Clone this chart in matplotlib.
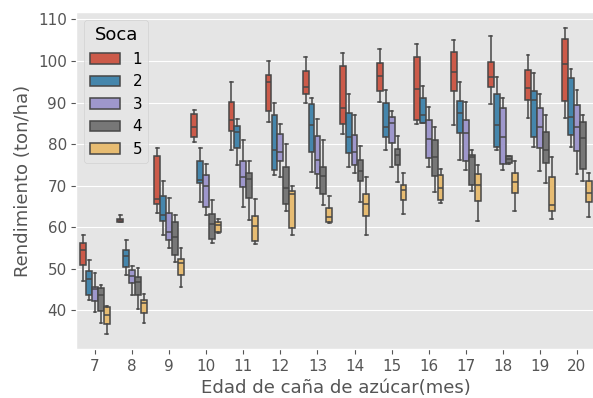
import colorsys
import matplotlib
matplotlib.use("Agg")
import matplotlib.pyplot as plt
import matplotlib.colors as mcolors
from matplotlib.patches import Patch

# --------------------------------------------------
# DATA  (low whisker, q1, median, q3, high whisker)
# --------------------------------------------------

meses = [7, 8, 9, 10, 11, 12, 13, 14, 15, 16, 17, 18, 19, 20]
socas = ["1", "2", "3", "4", "5"]

soca1 = [[47.0, 50.9, 54.5, 56.2, 58.1], [61.2, 61.3, 61.7, 62.1, 63.0],
         [63.4, 65.6, 66.7, 77.1, 79.0], [80.6, 81.6, 84.2, 87.3, 88.1],
         [78.6, 83.2, 85.9, 90.2, 95.0], [85.4, 87.9, 94.9, 96.6, 100.0],
         [89.9, 92.1, 93.8, 97.6, 101.0], [82.5, 84.9, 88.6, 98.8, 102.0],
         [90.2, 92.8, 96.4, 99.6, 103.0], [84.9, 85.7, 93.3, 100.9, 104.0],
         [84.6, 92.8, 97.4, 102.1, 105.0], [89.7, 93.7, 96.1, 99.8, 106.1],
         [86.3, 90.5, 93.4, 97.8, 101.5], [86.4, 90.4, 99.2, 105.2, 108.0]]

soca2 = [[42.4, 43.8, 47.5, 49.4, 52.1], [48.6, 50.5, 53.2, 54.6, 57.0],
         [58.2, 61.4, 63.0, 67.6, 71.1], [66.1, 70.6, 71.4, 75.9, 79.0],
         [74.9, 79.0, 83.0, 84.4, 86.0], [72.6, 73.7, 78.6, 87.1, 90.0],
         [73.2, 78.2, 84.6, 89.7, 91.0], [74.4, 77.9, 81.6, 87.4, 92.1],
         [78.6, 81.7, 84.2, 89.8, 93.0], [85.0, 85.1, 87.1, 91.1, 94.0],
         [76.2, 82.6, 87.4, 90.4, 95.0], [78.6, 79.2, 84.6, 92.1, 96.1],
         [79.2, 81.8, 90.6, 92.8, 97.0], [79.2, 82.3, 86.6, 95.8, 98.0]]

soca3 = [[39.7, 42.2, 45.2, 45.7, 49.0], [43.6, 46.6, 48.2, 49.7, 50.7],
         [55.0, 56.9, 58.8, 63.4, 67.0], [63.0, 64.9, 70.0, 72.6, 75.1],
         [64.9, 69.7, 72.2, 76.0, 81.0], [72.2, 76.0, 78.2, 82.4, 84.9],
         [69.4, 72.8, 76.2, 82.0, 86.0], [73.0, 75.0, 78.0, 82.3, 87.0],
         [74.5, 80.2, 85.0, 86.6, 88.0], [74.6, 76.7, 81.3, 85.8, 89.0],
         [73.7, 76.0, 82.6, 85.8, 90.1], [73.8, 75.3, 81.8, 88.6, 91.0],
         [73.6, 79.0, 84.0, 88.7, 92.0], [72.8, 78.4, 84.0, 89.5, 93.0]]

soca4 = [[37.0, 39.8, 43.8, 45.3, 46.0], [40.4, 43.8, 46.9, 48.1, 50.1],
         [51.6, 53.3, 57.7, 61.2, 63.0], [56.1, 57.2, 60.9, 63.1, 66.6],
         [61.8, 67.0, 71.6, 73.0, 76.0], [63.9, 65.7, 69.5, 74.5, 80.0],
         [65.4, 68.0, 72.4, 74.6, 81.0], [66.1, 71.1, 73.6, 76.1, 79.6],
         [71.0, 74.9, 77.4, 78.9, 82.0], [68.4, 72.4, 77.0, 80.9, 84.1],
         [68.8, 70.2, 77.0, 77.4, 78.6], [75.3, 75.4, 76.4, 77.1, 77.2],
         [70.6, 75.5, 78.6, 83.0, 87.0], [71.1, 73.9, 81.4, 85.4, 87.0]]

soca5 = [[34.4, 36.8, 39.0, 40.8, 41.0], [37.0, 39.4, 41.8, 42.5, 44.0],
         [45.6, 48.6, 51.4, 52.4, 55.1], [58.6, 58.8, 60.6, 61.2, 62.1],
         [55.9, 56.7, 60.3, 62.8, 66.9], [58.2, 59.8, 68.0, 68.8, 70.0],
         [61.0, 61.2, 62.5, 64.6, 67.4], [58.1, 62.8, 65.7, 68.0, 72.1],
         [63.2, 66.6, 69.0, 70.2, 73.0], [65.8, 66.6, 69.4, 72.6, 74.0],
         [61.4, 66.4, 70.1, 72.9, 75.0], [63.8, 68.2, 70.8, 73.0, 76.0],
         [61.9, 64.0, 65.4, 72.0, 77.0], [62.4, 66.1, 68.2, 71.1, 73.0]]

datos = [soca1, soca2, soca3, soca4, soca5]

# --------------------------------------------------
# STYLE
# --------------------------------------------------

plt.style.use("ggplot")
plt.rcParams["font.size"] = 10.9

colores_base = ["#E24A33", "#348ABD", "#988ED5", "#777777", "#FBC15E"]


def desaturar(c, prop):
    r, g, b = mcolors.to_rgb(c)
    h, l, s = colorsys.rgb_to_hls(r, g, b)
    return colorsys.hls_to_rgb(h, l, s * prop)


colores = [desaturar(c, 0.75) for c in colores_base]
gris = "#474747"
lw = 1.1

# --------------------------------------------------
# PLOT
# --------------------------------------------------

fig = plt.figure(figsize=(5.93, 3.98), dpi=100)
ax = fig.add_axes([0.129, 0.123, 0.8752, 0.846])

ancho = 0.8 / len(socas)
for k in range(len(socas)):
    offset = k * ancho - (0.8 / 2 - ancho / 2)
    stats = []
    for i in range(len(meses)):
        lo, q1, med, q3, hi = datos[k][i]
        stats.append(dict(whislo=lo, q1=q1, med=med, q3=q3, whishi=hi, fliers=[]))
    pos = [i + offset for i in range(len(meses))]
    ax.bxp(stats, positions=pos, widths=ancho * 0.98, patch_artist=True,
           showfliers=False, manage_ticks=False,
           boxprops=dict(facecolor=colores[k], edgecolor=gris, linewidth=lw),
           medianprops=dict(color=gris, linewidth=lw),
           whiskerprops=dict(color=gris, linewidth=lw),
           capprops=dict(color=gris, linewidth=lw))

ax.set_xticks(range(len(meses)))
ax.set_xticklabels([str(m) for m in meses])
ax.set_xlim(-0.5, len(meses) - 0.5)
ax.set_ylim(30.7, 111.7)
ax.xaxis.grid(False)
ax.set_xlabel("Edad de caña de azúcar(mes)")
ax.set_ylabel("Rendimiento (ton/ha)")

handles = [Patch(facecolor=colores[k], edgecolor=gris, linewidth=lw, label=socas[k])
           for k in range(len(socas))]
leg = ax.legend(handles=handles, title="Soca", loc="upper left")
leg.get_title().set_fontsize(13)

fig.savefig("out.png", dpi=100)
